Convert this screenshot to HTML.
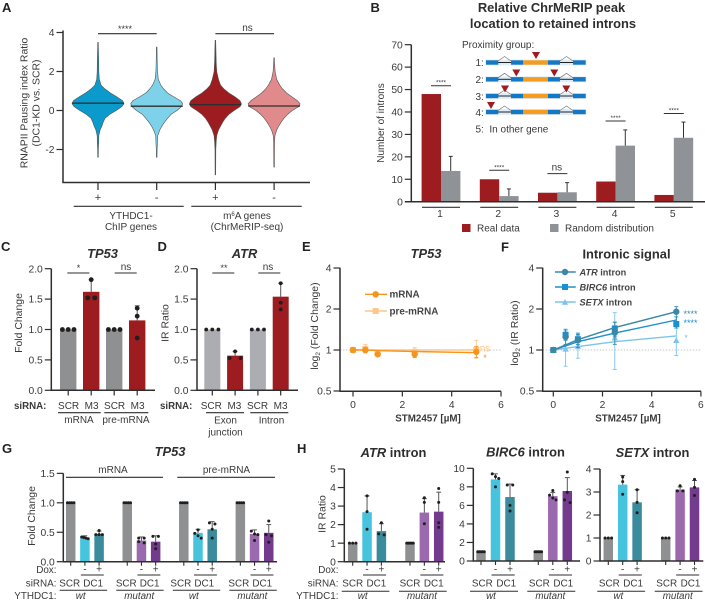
<!DOCTYPE html>
<html lang="en">
<head>
<meta charset="utf-8">
<title>Multi-panel figure</title>
<style>
html,body{margin:0;padding:0;background:#fff;}
svg{display:block;font-family:"Liberation Sans",sans-serif;}
text{fill:#3a3a3a;font-family:"Liberation Sans",sans-serif;}
.pl{font-size:13px;font-weight:bold;fill:#222;}
.t{font-size:12.9px;font-weight:bold;fill:#2e2e2e;text-anchor:middle;}
.s{font-size:10px;}
.yt{font-size:10.45px;}
.m{text-anchor:middle;}
</style>
</head>
<body>
<svg id="fig" width="705" height="604" viewBox="0 0 705 604" xmlns="http://www.w3.org/2000/svg">
  <rect width="705" height="604" fill="#fff"/>

  <g id="pa">
    <text class="pl" x="2" y="12">A</text>
    <text class="yt m" transform="translate(27.5,103) rotate(-90)">RNAPII Pausing index Ratio</text>
    <text class="yt m" transform="translate(39.5,103) rotate(-90)">(DC1-KD vs. SCR)</text>
    <text class="s m" x="131" y="219">YTHDC1-</text>
    <text class="s m" x="131" y="230">ChIP genes</text>
    <text class="s m" x="247" y="219">m<tspan style="font-size:6px" dy="-3">6</tspan><tspan dy="3">A genes</tspan></text>
    <text class="s m" x="247" y="230">(ChrMeRIP-seq)</text>
  </g>

  <g id="pb">
    <text class="pl" x="370.5" y="12">B</text>
    <text class="t" x="551.5" y="12">Relative ChrMeRIP peak</text>
    <text class="t" x="553" y="28">location to retained introns</text>
    <text class="s m" transform="translate(384,123) rotate(-90)">Number of introns</text>
    <text class="s" x="462" y="48">Proximity group:</text>
    <text class="s" x="475.5" y="66">1:</text>
    <text class="s" x="475.5" y="83">2:</text>
    <text class="s" x="475.5" y="100">3:</text>
    <text class="s" x="475.5" y="116">4:</text>
    <text class="s" x="475.5" y="132.5">5:&#160;&#160;In other gene</text>
    <rect x="462" y="224" width="8.5" height="8" fill="#9c1c20"/>
    <text class="s" x="477" y="231.5">Real data</text>
    <rect x="550" y="224" width="8.5" height="8" fill="#8f9296"/>
    <text class="s" x="565" y="231.5">Random distribution</text>
  </g>

  <g id="pc">
    <text class="pl" x="1" y="251">C</text>
    <text class="t" x="102.5" y="258" style="font-style:italic">TP53</text>
    <text class="yt m" transform="translate(22,323) rotate(-90)">Fold Change</text>
    <text class="s" x="14" y="409" style="font-weight:bold;font-size:9.7px">siRNA:</text>
    <text class="s m" x="79" y="423">mRNA</text>
    <text class="s m" x="126" y="423">pre-mRNA</text>
  </g>

  <g id="pd">
    <text class="pl" x="157.5" y="251">D</text>
    <text class="t" x="244.5" y="258" style="font-style:italic">ATR</text>
    <text class="yt m" transform="translate(168.5,323) rotate(-90)">IR Ratio</text>
    <text class="s" x="160" y="409" style="font-weight:bold;font-size:9.7px">siRNA:</text>
    <text class="s m" x="225.5" y="423.5">Exon</text>
    <text class="s m" x="225.5" y="435.5">junction</text>
    <text class="s m" x="271.5" y="423.5">Intron</text>
  </g>

  <g id="pe">
    <text class="pl" x="302" y="251">E</text>
    <text class="t" x="426" y="258" style="font-style:italic">TP53</text>
    <text class="yt m" transform="translate(318,326) rotate(-90)">log<tspan style="font-size:6.5px" dy="2">2</tspan><tspan dy="-2"> (Fold Change)</tspan></text>
    <text class="m" x="428" y="421.5" style="font-size:9.8px;font-weight:bold">STM2457 [&#181;M]</text>
    <text class="s" x="389.5" y="297.5" style="font-weight:bold;font-size:9.9px;fill:#444">mRNA</text>
    <text class="s" x="389.5" y="314.5" style="font-weight:bold;font-size:9.9px;fill:#444">pre-mRNA</text>
    <text class="m" x="485" y="351.5" style="font-size:10px;fill:#fbc78a">ns</text>
    <text class="m" x="485" y="361" style="font-size:9px;fill:#f7941d">*</text>
  </g>

  <g id="pf">
    <text class="pl" x="501" y="251.5">F</text>
    <text class="t" x="626.5" y="258.5">Intronic signal</text>
    <text class="yt m" transform="translate(518,333) rotate(-90)">log<tspan style="font-size:6.5px" dy="2">2</tspan><tspan dy="-2"> (IR Ratio)</tspan></text>
    <text class="m" x="628" y="421.5" style="font-size:9.8px;font-weight:bold">STM2457 [&#181;M]</text>
    <text class="s" x="579.5" y="275.5" style="font-weight:bold;font-size:9.2px;fill:#444"><tspan style="font-style:italic">ATR</tspan> intron</text>
    <text class="s" x="579.5" y="290.5" style="font-weight:bold;font-size:9.2px;fill:#444"><tspan style="font-style:italic">BIRC6</tspan> intron</text>
    <text class="s" x="579.5" y="305.5" style="font-weight:bold;font-size:9.2px;fill:#444"><tspan style="font-style:italic">SETX</tspan> intron</text>
    <text class="m" x="690.5" y="317" style="font-size:9px;fill:#3a87a8">****</text>
    <text class="m" x="690.5" y="326" style="font-size:9px;fill:#1a8fd1">****</text>
    <text class="m" x="686" y="341" style="font-size:9px;fill:#7cc4ec">*</text>
  </g>

  <g id="pg">
    <text class="pl" x="2" y="453">G</text>
    <text class="t" x="170" y="456" style="font-style:italic">TP53</text>
    <text class="yt m" transform="translate(35,516) rotate(-90)">Fold Change</text>
    <text class="s m" x="113" y="473">mRNA</text>
    <text class="s m" x="226.5" y="473">pre-mRNA</text>
  </g>

  <g id="ph">
    <text class="pl" x="297" y="453">H</text>
    <text class="t" x="393.5" y="457"><tspan style="font-style:italic">ATR</tspan> intron</text>
    <text class="t" x="525.5" y="456.5"><tspan style="font-style:italic">BIRC6</tspan> intron</text>
    <text class="t" x="652.5" y="457"><tspan style="font-style:italic">SETX</tspan> intron</text>
    <text class="yt m" transform="translate(325.5,514) rotate(-90)">IR Ratio</text>
  </g>
</svg>

<script>
/* ---------- Panel A: violin data ---------- */
const violinCategories = ['+', '-', '+', '-'];
const violinMedians = [0.38, 0.22, 0.30, 0.23];
const violinTops = [3.5, 3.25, 3.6, 2.7];
const violinBottoms = [-2.4, -2.4, -3.3, -2.9];
const violinLevels = [2.5, 2, 1.6, 1.3, 1.1, 0.9, 0.7, 0.5, 0.35, 0.2, 0, -0.2, -0.4, -0.6, -0.8, -1, -1.3, -1.6, -2];
const violinDensityYthdc1Pos = [.025, .03, .05, .12, .27, .48, .72, .95, 1, .92, .7, .45, .27, .2, .15, .08, .03, .025, .015];
const violinDensityYthdc1Neg = [.02, .03, .06, .16, .27, .42, .65, .92, 1, .95, .78, .55, .42, .3, .2, .12, .04, .03, .015];
const violinDensityM6aPos = [.03, .05, .12, .2, .33, .52, .75, .95, 1, .95, .72, .52, .38, .28, .2, .12, .05, .03, .015];
const violinDensityM6aNeg = [.015, .04, .1, .22, .33, .48, .68, .9, 1, .95, .7, .52, .38, .27, .18, .1, .03, .02, .015];
const violinYTicks = [4, 2, 0, -2];

/* ---------- Panel B ---------- */
const proximityGroups = ['1', '2', '3', '4', '5'];
const realData = [48, 10, 4, 9, 3];
const randomData = [13.7, 2.5, 4.2, 25, 28.5];
const randomErrorTop = [20.2, 5.7, 8.5, 32, 35.5];
const proximitySigLevels = [51.7, 14, 12.5, 36, 39.3];
const proximitySigLabels = ['****', '****', 'ns', '****', '****'];
const proximityYTicks = [0, 10, 20, 30, 40, 50, 60, 70];

/* ---------- Panels C, D ---------- */
const foldTicks = [0, 0.5, 1, 1.5, 2];
const cCategories = ['SCR', 'M3', 'SCR', 'M3'];
const cValues = [1, 1.62, 1, 1.15];
const cErrorTop = [1, 1.82, 1, 1.39];
const cDots = [[1, 1, 1], [1.82, 1.52, 1.52], [1, 1, 1], [1.35, 1.22, 0.86]];
const dCategories = ['SCR', 'M3', 'SCR', 'M3'];
const dValues = [1, 0.57, 1, 1.54];
const dErrorTop = [1, 0.64, 1, 1.76];
const dDots = [[1, 1, 1], [0.64, 0.53, 0.53], [1, 1, 1], [1.76, 1.44, 1.33]];

/* ---------- Panels E, F ---------- */
const doses = [0, 0.5, 1, 2.5, 5];
const doseTicks = [0, 2, 4, 6];
const logTicks = [4, 2, 1, 0.5];
const mrnaFit = [1, 1, 0.99, 0.975, 0.955];
const mrnaPoints = [1, 1, 0.93, 0.93, 0.97];
const mrnaLow = [1, 0.96, 0.9, 0.88, 0.88];
const mrnaHigh = [1, 1.04, 0.96, 0.98, 1.06];
const preFit = [1, 1, 1, 1, 1];
const prePoints = [1, 1.02, 0.95, 0.97, 1];
const preLow = [1, 0.95, 0.92, 0.9, 0.87];
const preHigh = [1, 1.1, 0.98, 1.04, 1.18];
const atrFit = [1, 1.09, 1.19, 1.46, 1.91];
const atrPoints = [1, 1.25, 1.18, 1.34, 1.91];
const atrLow = [1, 1.1, 1.04, 1.1, 1.62];
const atrHigh = [1, 1.42, 1.33, 1.6, 2.08];
const birc6Fit = [1, 1.07, 1.15, 1.33, 1.66];
const birc6Points = [1, 1.29, 1.2, 1.44, 1.55];
const birc6Low = [1, 1.18, 1.1, 1.25, 1.45];
const birc6High = [1, 1.38, 1.3, 1.6, 1.75];
const setxFit = [1, 1.03, 1.06, 1.15, 1.27];
const setxPoints = [1, 1.02, 1.07, 1.23, 1.18];
const setxLow = [1, 0.76, 0.87, 0.72, 0.91];
const setxHigh = [1, 1.3, 1.28, 1.88, 1.55];

/* ---------- Panel G ---------- */
const gTicks = [0, 0.5, 1, 1.5];
const gGroups = ['wt', 'mutant', 'wt', 'mutant'];
const gValues = [[1, 0.4, 0.47], [1, 0.36, 0.34], [1, 0.49, 0.55], [1, 0.47, 0.49]];
const gErrorTop = [[1, 0.44, 0.52], [1, 0.42, 0.44], [1, 0.55, 0.68], [1, 0.54, 0.63]];
const gDots = [
  [[1, 1, 1, 1], [0.42, 0.41, 0.4, 0.39], [0.53, 0.46, 0.46, 0.46]],
  [[1, 1, 1, 1], [0.4, 0.4, 0.34, 0.32], [0.43, 0.43, 0.3, 0.22]],
  [[1, 1, 1, 1], [0.54, 0.48, 0.44, 0.4], [0.66, 0.64, 0.55, 0.4]],
  [[1, 1, 1, 1], [0.52, 0.47, 0.46, 0.36], [0.69, 0.46, 0.44, 0.33]]
];

/* ---------- Panel H ---------- */
const hGroups = ['wt', 'mutant'];
const atrTicks = [0, 1, 2, 3, 4, 5];
const atrValues = [[1, 2.67, 1.65], [1, 2.65, 2.7]];
const atrErrorTop = [[1, 3.55, 2.05], [1, 3.4, 3.75]];
const atrDots = [
  [[1, 1, 1], [3.55, 2.7, 1.75], [2.1, 1.5, 1.45]],
  [[1, 1, 1, 1, 1], [3.45, 3.2, 2.05], [3.95, 3.2, 2.1, 1.85]]
];
const birc6Ticks = [0, 2, 4, 6, 8, 10];
const birc6Values = [[1, 8.8, 6.9], [1, 7, 7.55]];
const birc6ErrorTop = [[1, 9.4, 8.3], [1, 7.4, 9]];
const birc6Dots = [
  [[1, 1, 1, 1, 1], [9.4, 9.1, 8.9, 8], [8.2, 8.2, 6, 5.4]],
  [[1, 1, 1, 1, 1], [7.6, 7.1, 6.8, 6.6], [9.6, 7.4, 6.6, 6.3]]
];
const setxTicks = [0, 1, 2, 3, 4];
const setxValues = [[1, 3.32, 2.55], [1, 3.1, 3.2]];
const setxErrorTop = [[1, 3.72, 3.1], [1, 3.22, 3.5]];
const setxDots = [
  [[1, 1, 1], [3.65, 3.45, 2.9], [3.1, 2.55, 2.1]],
  [[1, 1, 1], [3.27, 3.05, 3.05], [3.55, 3.2, 2.85]]
];

/* ---------- Helpers ---------- */
const NS = 'http://www.w3.org/2000/svg';
const INK = '#2e2e2e';
const AXIS_W = 1.5;
const $ = id => document.getElementById(id);

function add(parent, tag, props, name) {
  const el = document.createElementNS(NS, tag);
  for (const k in props) el.setAttribute(k, props[k]);
  
  
  parent.appendChild(el);
  return el;
}
function seg(parent, x1, y1, x2, y2, name, stroke, sw) {
  return add(parent, 'line', { x1, y1, x2, y2, stroke: stroke || INK, 'stroke-width': sw || 1.2 }, name);
}
function label(parent, x, y, str, name, anchor, size, style) {
  const el = add(parent, 'text', { x, y, 'text-anchor': anchor || 'middle', 'font-size': size || 10 }, name);
  if (style) el.setAttribute('style', style);
  el.textContent = str;
  return el;
}
function yAxis(parent, x, yTop, yBottom, ticks, yS, fmt, key) {
  seg(parent, x, yTop, x, yBottom, key + '-y-axis', INK, AXIS_W);
  ticks.forEach(t => {
    seg(parent, x - 6.5, yS(t), x, yS(t), key + '-y-tick', INK, 1.2);
    label(parent, x - 8.5, yS(t) + 3.6, fmt(t), key + '-y-tick-label', 'end', 10.3);
  });
}
function clusterDots(vals, yS, r) {
  const sorted = vals.slice().sort((a, b) => b - a);
  const clusters = [];
  sorted.forEach(v => {
    const last = clusters[clusters.length - 1];
    if (last && Math.abs(yS(last[last.length - 1]) - yS(v)) < 2 * r) last.push(v);
    else clusters.push([v]);
  });
  return clusters;
}
function drawDots(parent, cx, w, vals, yS, r, maxGap, key) {
  clusterDots(vals, yS, r).forEach(c => {
    const gap = c.length > 1 ? Math.min(maxGap, (w - 2 * r) / (c.length - 1)) : 0;
    c.forEach((v, i) => {
      add(parent, 'circle', { cx: cx + (i - (c.length - 1) / 2) * gap, cy: yS(v), r, fill: '#1f1f1f' }, key + '-data-point');
    });
  });
}
function drawBar(parent, cx, w, value, errTop, dots, yS, fill, r, maxGap, key) {
  add(parent, 'rect', { x: cx - w / 2, y: yS(value), width: w, height: yS(0) - yS(value), fill }, key + '-bar');
  if (errTop > value) {
    seg(parent, cx, yS(value), cx, yS(errTop), key + '-error-bar', '#555', 1);
    seg(parent, cx - 2.4, yS(errTop), cx + 2.4, yS(errTop), key + '-error-cap', '#555', 1);
  }
  drawDots(parent, cx, w, dots, yS, r, maxGap, key);
}

/* ---------- Panel A ---------- */
(function () {
  const g = $('pa');
  const aX = i => 98 + 58.7 * i;
  const aY = v => 110.5 - 19.5 * v;
  const fills = ['#0a9acb', '#7dd2ea', '#9c1c20', '#e08a8c'];
  const densities = [violinDensityYthdc1Pos, violinDensityYthdc1Neg, violinDensityM6aPos, violinDensityM6aNeg];
  const halfMax = 26;
  violinCategories.forEach((c, i) => {
    const pts = [[violinTops[i], 0.012]];
    violinLevels.forEach((lv, j) => {
      if (lv < violinTops[i] && lv > violinBottoms[i]) pts.push([lv, densities[i][j]]);
    });
    pts.push([violinBottoms[i], 0.012]);
    const right = pts.map(p => (aX(i) + p[1] * halfMax).toFixed(1) + ',' + aY(p[0]).toFixed(1));
    const left = pts.slice().reverse().map(p => (aX(i) - p[1] * halfMax).toFixed(1) + ',' + aY(p[0]).toFixed(1));
    add(g, 'polygon', { points: right.concat(left).join(' '), fill: fills[i], stroke: '#555', 'stroke-width': 0.6, 'stroke-linejoin': 'round' }, 'violin-' + i);
    seg(g, aX(i) - 26, aY(violinMedians[i]), aX(i) + 26, aY(violinMedians[i]), 'violin-median-' + i, '#2d2d2d', 1.3);
    seg(g, aX(i), 182.5, aX(i), 190, 'x-tick-a', INK, 1.2);
    label(g, aX(i), 201, c, 'x-tick-label-a', 'middle', 11);
  });
  yAxis(g, 63, 30.5, 182.5, violinYTicks, aY, t => String(t), 'a');
  seg(g, 62.3, 182.5, 310, 182.5, 'a-x-axis', INK, AXIS_W);
  seg(g, aX(0), 33.7, aX(1), 33.7, 'sig-bar-ythdc1', INK, 1.1);
  seg(g, aX(2), 33.7, aX(3), 33.7, 'sig-bar-m6a', INK, 1.1);
  label(g, 125, 32, '****', 'sig-label-ythdc1', 'middle', 9);
  label(g, 247.5, 31, 'ns', 'sig-label-m6a', 'middle', 10);
  seg(g, 73.7, 206.3, 183.7, 206.3, 'group-line-ythdc1', INK, 1.1);
  seg(g, 191.3, 206.3, 301.7, 206.3, 'group-line-m6a', INK, 1.1);
})();

/* ---------- Panel B ---------- */
(function () {
  const g = $('pb');
  const bX = i => 441 + 58.2 * i;
  const bY = v => 201.7 - 2.243 * v;
  const w = 19.4;
  proximityGroups.forEach((c, i) => {
    add(g, 'rect', { x: bX(i) - w, y: bY(realData[i]), width: w, height: bY(0) - bY(realData[i]), fill: '#9c1c20' }, 'bar-real-' + c);
    add(g, 'rect', { x: bX(i), y: bY(randomData[i]), width: w, height: bY(0) - bY(randomData[i]), fill: '#8f9296' }, 'bar-random-' + c);
    seg(g, bX(i) + w / 2, bY(randomData[i]), bX(i) + w / 2, bY(randomErrorTop[i]), 'error-bar-random-' + c, '#333', 1);
    seg(g, bX(i) + w / 2 - 2, bY(randomErrorTop[i]), bX(i) + w / 2 + 2, bY(randomErrorTop[i]), 'error-cap-random-' + c, '#333', 1);
    seg(g, bX(i) - 10, bY(proximitySigLevels[i]), bX(i) + 10, bY(proximitySigLevels[i]), 'sig-bar-' + c, '#333', 1);
    if (proximitySigLabels[i] === 'ns') label(g, bX(i) - 0.5, bY(proximitySigLevels[i]) - 3.2, 'ns', 'sig-label-' + c, 'middle', 10);
    else label(g, bX(i), bY(proximitySigLevels[i]) - 1, proximitySigLabels[i], 'sig-label-' + c, 'middle', 6.5);
    seg(g, bX(i) - 19, 207.3, bX(i) + 19, 207.3, 'group-line-' + c, '#333', 1.1);
    label(g, bX(i) - 1, 217, c, 'x-tick-label-b', 'middle', 10.3);
  });
  yAxis(g, 411.3, 44.7, 201.7, proximityYTicks, bY, String, 'b');
  seg(g, 405, 201.7, 705, 201.7, 'b-x-axis', INK, AXIS_W);

  /* gene schematic */
  const rowY = [62.5, 79.3, 96, 112];
  const blue = [[486, 12.3], [511, 12.3], [548, 12], [573, 12.7]];
  rowY.forEach((y, r) => {
    add(g, 'rect', { x: 485.3, y: y - 2.9, width: 101, height: 5.8, fill: '#cfe4f4', opacity: 0.7 }, 'gene-halo');
    seg(g, 498, y, 511, y, 'intron-line', '#222', 1);
    seg(g, 560, y, 573, y, 'intron-line', '#222', 1);
    blue.forEach(b => add(g, 'rect', { x: b[0], y: y - 2.2, width: b[1], height: 4.4, fill: '#1478c4' }, 'exon'));
    add(g, 'rect', { x: 523.3, y: y - 2.2, width: 24.7, height: 4.4, fill: '#f49c20' }, 'retained-intron');
    add(g, 'polyline', { points: `498,${y - 1.5} 504.5,${y - 6} 511,${y - 1.5}`, fill: 'none', stroke: '#777', 'stroke-width': 0.7 }, 'splice-caret');
    add(g, 'polyline', { points: `560,${y - 1.5} 566.5,${y - 6} 573,${y - 1.5}`, fill: 'none', stroke: '#777', 'stroke-width': 0.7 }, 'splice-caret');
  });
  const peaks = [[536, 52], [516.3, 69.5], [554.3, 69.5], [505, 85.5], [566.3, 85.5], [491, 102]];
  peaks.forEach(p => add(g, 'polygon', { points: `${p[0] - 4},${p[1]} ${p[0] + 4},${p[1]} ${p[0]},${p[1] + 7}`, fill: '#9c1c20' }, 'peak-marker'));
})();

/* ---------- Panels C, D ---------- */
(function () {
  const cY = v => 390.3 - 60.8 * v;
  const g = $('pc');
  const cX = i => 68.2 + 23 * i;
  const cFills = ['#8e9092', '#9c1c20', '#8e9092', '#9c1c20'];
  cCategories.forEach((c, i) => {
    drawBar(g, cX(i), 16.4, cValues[i], cErrorTop[i], cDots[i], cY, cFills[i], 2.4, 7, 'c-' + c.toLowerCase());
    seg(g, cX(i), 390.3, cX(i), 395.5, 'x-tick-c', INK, 1.2);
    label(g, cX(i) + 0.4, 409, c, 'x-tick-label-c');
  });
  yAxis(g, 51.3, 268.7, 390.3, foldTicks, cY, t => t.toFixed(1), 'c');
  seg(g, 50.6, 390.3, 155, 390.3, 'c-x-axis', INK, AXIS_W);
  seg(g, 67.3, 273, 89.3, 273, 'sig-bar-c-mrna', INK, 1.1);
  seg(g, 114.7, 273, 136.7, 273, 'sig-bar-c-pre', INK, 1.1);
  label(g, 78.5, 271, '*', 'sig-label-c-mrna', 'middle', 9);
  label(g, 126, 270, 'ns', 'sig-label-c-pre', 'middle', 10);
  seg(g, 58, 412.7, 100.7, 412.7, 'group-line-c-mrna', INK, 1.1);
  seg(g, 104.3, 412.7, 148.3, 412.7, 'group-line-c-pre', INK, 1.1);

  const h = $('pd');
  const dX = i => 212.3 + 22.8 * i;
  const dFills = ['#abadb2', '#9c1c20', '#abadb2', '#9c1c20'];
  dCategories.forEach((c, i) => {
    drawBar(h, dX(i), 16, dValues[i], dErrorTop[i], dDots[i], cY, dFills[i], 1.9, 11, 'd-' + c.toLowerCase());
    seg(h, dX(i), 390.3, dX(i), 395.5, 'x-tick-d', INK, 1.2);
    label(h, dX(i) - 1 + i * 0.3, 409, c, 'x-tick-label-d');
  });
  yAxis(h, 197, 268.7, 390.3, foldTicks, cY, t => t.toFixed(1), 'd');
  seg(h, 196.3, 390.3, 298, 390.3, 'd-x-axis', INK, AXIS_W);
  seg(h, 212.3, 273, 234.3, 273, 'sig-bar-d-exon', INK, 1.1);
  seg(h, 258.3, 273, 280.3, 273, 'sig-bar-d-intron', INK, 1.1);
  label(h, 224, 271, '**', 'sig-label-d-exon', 'middle', 9);
  label(h, 268, 270, 'ns', 'sig-label-d-intron', 'middle', 10);
  seg(h, 206, 412.7, 244, 412.7, 'group-line-d-exon', INK, 1.1);
  seg(h, 250.3, 412.7, 288.3, 412.7, 'group-line-d-intron', INK, 1.1);
})();

/* ---------- Panels E, F ---------- */
function logY(v) { return 350 - 41 * Math.log2(v); }
function marker(parent, kind, x, y, color, key) {
  if (kind === 'circle') add(parent, 'circle', { cx: x, cy: y, r: 3.2, fill: color }, key + '-marker');
  if (kind === 'square') add(parent, 'rect', { x: x - 3, y: y - 3, width: 6, height: 6, fill: color }, key + '-marker');
  if (kind === 'triangle') add(parent, 'polygon', { points: `${x - 3.2},${y + 2.8} ${x + 3.2},${y + 2.8} ${x},${y - 3}`, fill: color }, key + '-marker');
}
function lineSeries(parent, xS, fit, pts, lo, hi, color, kind, key) {
  add(parent, 'polyline', { points: doses.map((d, i) => xS(d).toFixed(1) + ',' + logY(fit[i]).toFixed(1)).join(' '), fill: 'none', stroke: color, 'stroke-width': 1.4 }, key + '-fit-line');
  doses.forEach((d, i) => {
    if (hi[i] !== lo[i]) {
      seg(parent, xS(d), logY(lo[i]), xS(d), logY(hi[i]), key + '-error-bar', color, 0.9);
      seg(parent, xS(d) - 2, logY(lo[i]), xS(d) + 2, logY(lo[i]), key + '-error-cap', color, 0.9);
      seg(parent, xS(d) - 2, logY(hi[i]), xS(d) + 2, logY(hi[i]), key + '-error-cap', color, 0.9);
    }
    marker(parent, kind, xS(d), logY(pts[i]), color, key);
  });
}
function doseAxes(parent, xAxisX, xEnd, xS, key) {
  seg(parent, xAxisX, logY(1), xEnd, logY(1), key + '-reference-line', '#b5b5b5', 0.8).setAttribute('stroke-dasharray', '1.5 1.5');
  yAxis(parent, xAxisX, 267.7, 391.3, logTicks, logY, String, key);
  seg(parent, xAxisX - 0.7, 391.3, xEnd, 391.3, key + '-x-axis', INK, AXIS_W);
  doseTicks.forEach(t => {
    seg(parent, xS(t), 391.3, xS(t), 396.5, key + '-x-tick', INK, 1.2);
    label(parent, xS(t), 408, String(t), key + '-x-tick-label', 'middle', 10.3);
  });
}
(function () {
  const g = $('pe');
  const eX = d => 353 + 24.67 * d;
  doseAxes(g, 340, 501, eX, 'e');
  lineSeries(g, eX, preFit, prePoints, preLow, preHigh, '#fbc78a', 'square', 'pre-mrna');
  lineSeries(g, eX, mrnaFit, mrnaPoints, mrnaLow, mrnaHigh, '#f7941d', 'circle', 'mrna');
  seg(g, 365, 294.3, 387, 294.3, 'legend-line-mrna', '#f7941d', 1.4);
  marker(g, 'circle', 375.7, 294.3, '#f7941d', 'legend-mrna');
  seg(g, 365, 311, 387, 311, 'legend-line-pre-mrna', '#fbc78a', 1.4);
  marker(g, 'square', 375.7, 311, '#fbc78a', 'legend-pre-mrna');

  const h = $('pf');
  const fX = d => 553.3 + 24.6 * d;
  doseAxes(h, 542.7, 701, fX, 'f');
  lineSeries(h, fX, setxFit, setxPoints, setxLow, setxHigh, '#7cc4ec', 'triangle', 'setx');
  lineSeries(h, fX, birc6Fit, birc6Points, birc6Low, birc6High, '#1a8fd1', 'square', 'birc6');
  lineSeries(h, fX, atrFit, atrPoints, atrLow, atrHigh, '#3a87a8', 'circle', 'atr');
  [[272, '#3a87a8', 'circle', 'atr'], [287, '#1a8fd1', 'square', 'birc6'], [302, '#7cc4ec', 'triangle', 'setx']].forEach(r => {
    seg(h, 555, r[0], 575.7, r[0], 'legend-line-' + r[3], r[1], 1.4);
    marker(h, r[2], 565, r[0], r[1], 'legend-' + r[3]);
  });
})();

/* ---------- Panels G, H ---------- */
const GROUP_FILLS = [
  ['#8e9092', '#46c3dd', '#3a8c9d'],
  ['#8e9092', '#9b69ae', '#733a8e']
];
function bottomAnnotations(g, groupX, barPitch, groupNames, shifts, lineY, showLabels, labelEnd, key) {
  groupNames.forEach((nm, gi) => {
    const b0 = groupX(gi), b1 = b0 + barPitch, b2 = b0 + 2 * barPitch, sh = shifts[gi];
    label(g, b1, 572.5, '-', key + '-dox-minus');
    label(g, b2, 572.5, '+', key + '-dox-plus');
    seg(g, b1 - 4, 575, b2 + 4.7, 575, key + '-dox-line', INK, 1);
    label(g, b0 + sh, 586.5, 'SCR', key + '-sirna-scr', 'middle', 9.9);
    label(g, b2 - 5 + sh, 586.5, 'DC1', key + '-sirna-dc1', 'middle', 9.9);
    seg(g, b0 - 11, lineY, b2 + 8, lineY, key + '-sirna-line', INK, 1);
    label(g, b0 + (nm === 'wt' ? 10 : 12), 599, nm, key + '-ythdc1-' + nm, 'middle', 9.8, 'font-style:italic');
  });
  if (showLabels) {
    label(g, labelEnd, 573, 'Dox:', key + '-dox-label', 'end', 9.9);
    label(g, labelEnd, 586.5, 'siRNA:', key + '-sirna-label', 'end', 9.9);
    label(g, labelEnd, 599, 'YTHDC1:', key + '-ythdc1-label', 'end', 9.9);
  }
}
function groupedBars(g, groupX, barPitch, yS, names, vals, errs, dots, r, key) {
  names.forEach((nm, gi) => {
    vals[gi].forEach((v, bi) => {
      const cx = groupX(gi) + bi * barPitch;
      drawBar(g, cx, 9.5, v, errs[gi][bi], dots[gi][bi], yS, GROUP_FILLS[nm === 'wt' ? 0 : 1][bi], r, 5.5, key + '-' + nm);
      seg(g, cx, yS(0), cx, yS(0) + 4, key + '-x-tick', INK, 1.1);
    });
  });
}
(function () {
  const g = $('pg');
  const gY = v => 561.7 - 58.9 * v;
  const gX = i => 70.7 + 56.55 * i;
  groupedBars(g, gX, 14.2, gY, gGroups, gValues, gErrorTop, gDots, 1.5, 'g');
  yAxis(g, 63.3, 473.3, 561.7, gTicks, gY, t => t.toFixed(1), 'g');
  seg(g, 62.6, 561.7, 277, 561.7, 'g-x-axis', INK, AXIS_W);
  seg(g, 66, 477.3, 163, 477.3, 'group-line-mrna-g', INK, 1.1);
  seg(g, 177.3, 477.3, 275, 477.3, 'group-line-pre-mrna-g', INK, 1.1);
  bottomAnnotations(g, gX, 14.2, gGroups, [-1, -1, -3, -1.5], 590.3, true, 56.5, 'g');

  const h = $('ph');
  const h1Y = v => 561.7 - 18.54 * v;
  const h1X = i => 352.7 + 57.3 * i;
  groupedBars(h, h1X, 14.35, h1Y, hGroups, atrValues, atrErrorTop, atrDots, 1.5, 'h-atr');
  yAxis(h, 344.3, 469, 561.7, atrTicks, h1Y, String, 'h-atr');
  seg(h, 343.6, 561.7, 445, 561.7, 'h-atr-x-axis', INK, AXIS_W);
  bottomAnnotations(h, h1X, 14.35, hGroups, [0, 0], 591.3, true, 338.5, 'h-atr');

  const h2Y = v => 561 - 9.27 * v;
  const h2X = i => 481 + 57.3 * i;
  groupedBars(h, h2X, 14.5, h2Y, hGroups, birc6Values, birc6ErrorTop, birc6Dots, 1.5, 'h-birc6');
  yAxis(h, 473.3, 468.3, 561, birc6Ticks, h2Y, String, 'h-birc6');
  seg(h, 472.6, 561, 580, 561, 'h-birc6-x-axis', INK, AXIS_W);
  bottomAnnotations(h, h2X, 14.5, hGroups, [1.3, 1], 591.3, false, 0, 'h-birc6');

  const h3Y = v => 561 - 23 * v;
  const h3X = i => 608.3 + 57.4 * i;
  groupedBars(h, h3X, 14.4, h3Y, hGroups, setxValues, setxErrorTop, setxDots, 1.5, 'h-setx');
  yAxis(h, 600, 469, 561, setxTicks, h3Y, String, 'h-setx');
  seg(h, 599.3, 561, 703.3, 561, 'h-setx-x-axis', INK, AXIS_W);
  bottomAnnotations(h, h3X, 14.4, hGroups, [1, 1], 591.3, false, 0, 'h-setx');
})();
</script>
</body>
</html>
